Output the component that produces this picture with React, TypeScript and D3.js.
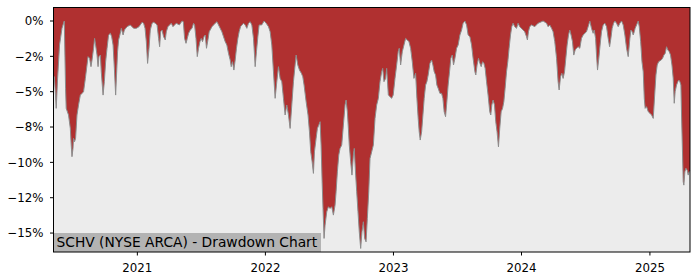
import React from 'react';
import * as d3 from 'd3';

// Decimal-year dates and drawdown (%)
const years = [
  2020.347, 2020.353, 2020.361, 2020.368, 2020.379, 2020.394, 2020.413, 2020.425, 2020.431, 2020.436,
  2020.441, 2020.446, 2020.464, 2020.478, 2020.485, 2020.491, 2020.499, 2020.503, 2020.511, 2020.519,
  2020.530, 2020.542, 2020.556, 2020.569, 2020.581, 2020.595, 2020.608, 2020.616, 2020.628, 2020.639,
  2020.647, 2020.659, 2020.667, 2020.675, 2020.686, 2020.694, 2020.701, 2020.712, 2020.719, 2020.733,
  2020.743, 2020.753, 2020.764, 2020.776, 2020.790, 2020.800, 2020.811, 2020.821, 2020.831, 2020.839,
  2020.846, 2020.854, 2020.867, 2020.875, 2020.889, 2020.899, 2020.920, 2020.945, 2020.971, 2020.992,
  2021.013, 2021.037, 2021.049, 2021.060, 2021.070, 2021.080, 2021.091, 2021.101, 2021.115, 2021.127,
  2021.140, 2021.154, 2021.166, 2021.174, 2021.182, 2021.193, 2021.205, 2021.218, 2021.226, 2021.239,
  2021.265, 2021.278, 2021.304, 2021.328, 2021.349, 2021.359, 2021.369, 2021.380, 2021.390, 2021.400,
  2021.413, 2021.427, 2021.439, 2021.447, 2021.458, 2021.468, 2021.478, 2021.489, 2021.499, 2021.509,
  2021.520, 2021.530, 2021.540, 2021.551, 2021.561, 2021.583, 2021.608, 2021.622, 2021.634, 2021.647,
  2021.660, 2021.673, 2021.686, 2021.699, 2021.712, 2021.725, 2021.733, 2021.743, 2021.754, 2021.764,
  2021.774, 2021.785, 2021.795, 2021.806, 2021.829, 2021.842, 2021.855, 2021.868, 2021.881, 2021.894,
  2021.907, 2021.915, 2021.920, 2021.930, 2021.941, 2021.951, 2021.971, 2021.990, 2022.006, 2022.024,
  2022.037, 2022.050, 2022.063, 2022.076, 2022.089, 2022.102, 2022.115, 2022.128, 2022.141, 2022.154,
  2022.167, 2022.180, 2022.193, 2022.206, 2022.219, 2022.232, 2022.240, 2022.253, 2022.266, 2022.281,
  2022.292, 2022.302, 2022.318, 2022.333, 2022.344, 2022.354, 2022.365, 2022.375, 2022.383, 2022.396,
  2022.406, 2022.417, 2022.427, 2022.435, 2022.443, 2022.450, 2022.458, 2022.466, 2022.479, 2022.492,
  2022.505, 2022.518, 2022.531, 2022.544, 2022.552, 2022.562, 2022.573, 2022.583, 2022.596, 2022.609,
  2022.622, 2022.630, 2022.640, 2022.648, 2022.655, 2022.666, 2022.676, 2022.687, 2022.694, 2022.705,
  2022.713, 2022.723, 2022.733, 2022.744, 2022.754, 2022.765, 2022.775, 2022.786, 2022.796, 2022.807,
  2022.817, 2022.830, 2022.843, 2022.856, 2022.869, 2022.882, 2022.895, 2022.908, 2022.916, 2022.926,
  2022.939, 2022.947, 2022.960, 2022.986, 2022.998, 2023.012, 2023.025, 2023.037, 2023.045, 2023.056,
  2023.069, 2023.082, 2023.095, 2023.108, 2023.121, 2023.134, 2023.147, 2023.160, 2023.173, 2023.183,
  2023.193, 2023.201, 2023.209, 2023.220, 2023.230, 2023.240, 2023.251, 2023.261, 2023.271, 2023.285,
  2023.298, 2023.308, 2023.318, 2023.329, 2023.339, 2023.349, 2023.363, 2023.376, 2023.386, 2023.396,
  2023.407, 2023.417, 2023.427, 2023.438, 2023.448, 2023.459, 2023.469, 2023.480, 2023.493, 2023.505,
  2023.519, 2023.532, 2023.544, 2023.558, 2023.571, 2023.583, 2023.597, 2023.610, 2023.622, 2023.636,
  2023.643, 2023.653, 2023.664, 2023.675, 2023.685, 2023.696, 2023.706, 2023.716, 2023.727, 2023.739,
  2023.752, 2023.760, 2023.768, 2023.778, 2023.789, 2023.799, 2023.809, 2023.820, 2023.830, 2023.841,
  2023.852, 2023.862, 2023.872, 2023.883, 2023.893, 2023.903, 2023.914, 2023.924, 2023.934, 2023.947,
  2023.961, 2023.973, 2023.986, 2024.012, 2024.025, 2024.039, 2024.046, 2024.054, 2024.064, 2024.078,
  2024.103, 2024.129, 2024.168, 2024.195, 2024.207, 2024.220, 2024.234, 2024.246, 2024.259, 2024.273,
  2024.285, 2024.293, 2024.304, 2024.314, 2024.324, 2024.335, 2024.345, 2024.355, 2024.366, 2024.376,
  2024.386, 2024.397, 2024.407, 2024.418, 2024.428, 2024.441, 2024.454, 2024.467, 2024.480, 2024.506,
  2024.519, 2024.532, 2024.545, 2024.558, 2024.566, 2024.577, 2024.584, 2024.592, 2024.602, 2024.612,
  2024.623, 2024.636, 2024.649, 2024.662, 2024.675, 2024.686, 2024.696, 2024.706, 2024.717, 2024.727,
  2024.740, 2024.753, 2024.766, 2024.779, 2024.792, 2024.805, 2024.818, 2024.831, 2024.844, 2024.852,
  2024.862, 2024.870, 2024.878, 2024.885, 2024.896, 2024.909, 2024.917, 2024.928, 2024.938, 2024.948,
  2024.956, 2024.963, 2024.974, 2024.987, 2025.000, 2025.013, 2025.026, 2025.037, 2025.047, 2025.057,
  2025.068, 2025.088, 2025.099, 2025.109, 2025.119, 2025.130, 2025.140, 2025.151, 2025.161, 2025.172,
  2025.182, 2025.190, 2025.197, 2025.208, 2025.218, 2025.226, 2025.234, 2025.242, 2025.247, 2025.255,
  2025.260, 2025.265, 2025.273, 2025.281, 2025.291, 2025.299, 2025.306, 2025.313,
];

const drawdown = [
  -3.9, -3.94, -5.0, -6.18, -4.06, -1.70, -0.52, -0.16, 0, -2.41,
  -4.76, -6.18, -6.65, -7.60, -8.78, -9.60, -9.00, -8.30, -8.54, -8.30,
  -6.65, -5.94, -5.24, -5.12, -5.00, -4.06, -3.11, -2.52, -2.64, -3.23,
  -2.76, -1.93, -1.23, -1.70, -2.41, -3.23, -2.52, -2.41, -3.59, -5.24,
  -4.29, -2.88, -1.93, -0.99, -0.87, -1.11, -1.70, -3.35, -5.24, -3.59,
  -2.17, -1.34, -0.87, -0.52, -0.99, -0.64, -0.40, -0.28, -0.52, -0.52,
  -0.40, -0.09, -0.16, -0.52, -1.46, -3.00, -1.93, -0.64, -0.16, -0.09,
  -0.16, -0.28, -1.23, -1.82, -0.76, -0.64, -1.11, -1.34, -0.76, -0.40,
  -0.16, -0.40, -0.16, -0.28, 0, -0.05, -1.23, -1.58, -1.23, -0.87,
  -0.64, -0.52, -0.16, -0.28, -1.23, -2.52, -1.93, -1.46, -1.23, -1.46,
  -1.11, -0.99, -1.93, -1.34, -0.76, -0.40, -0.16, -0.05, -0.28, -0.52,
  -0.76, -1.11, -1.46, -1.70, -2.29, -2.76, -3.23, -2.88, -3.47, -2.76,
  -1.93, -1.23, -0.76, -0.40, -0.16, -0.28, -0.52, -0.16, -0.05, -0.28,
  -1.23, -2.41, -3.23, -2.17, -1.11, -0.28, -0.28, 0, -0.16, -0.40,
  -0.76, -1.70, -3.59, -5.47, -4.29, -3.23, -4.06, -4.29, -5.47, -6.65,
  -5.94, -6.65, -7.60, -5.94, -4.29, -3.11, -2.41, -3.11, -3.47, -3.70,
  -3.94, -4.53, -5.71, -6.65, -7.83, -9.25, -9.96, -10.78, -9.25, -8.30,
  -7.60, -7.36, -7.12, -8.78, -11.37, -13.26, -15.38, -14.44, -13.50, -13.14,
  -13.26, -13.14, -13.73, -13.02, -12.08, -10.67, -9.48, -9.01, -8.78, -7.36,
  -5.94, -5.59, -6.42, -7.60, -8.78, -9.96, -10.90, -9.48, -9.01, -10.90,
  -12.08, -13.50, -14.91, -16.09, -14.91, -14.20, -15.38, -15.62, -13.96, -12.08,
  -9.72, -9.25, -8.78, -6.89, -5.94, -5.47, -4.29, -3.59, -3.35, -4.29,
  -4.06, -3.35, -5.24, -5.47, -5.24, -4.06, -3.11, -2.17, -1.93, -3.11,
  -2.17, -1.70, -1.23, -1.34, -1.46, -1.93, -2.88, -4.06, -3.70, -5.47,
  -6.89, -7.83, -8.42, -7.83, -6.65, -5.47, -4.53, -4.29, -3.82, -2.99,
  -2.76, -3.11, -3.59, -3.82, -4.53, -4.76, -5.12, -5.12, -5.47, -6.42,
  -6.77, -5.71, -4.53, -3.59, -2.64, -2.41, -3.11, -2.64, -1.93, -1.70,
  -0.99, -0.64, -0.16, 0, -0.28, -0.99, -1.11, -1.70, -2.64, -3.59,
  -3.82, -3.11, -2.64, -2.99, -3.23, -2.88, -2.99, -3.35, -4.29, -5.24,
  -6.42, -6.65, -5.94, -5.59, -5.94, -7.13, -7.83, -8.90, -7.60, -6.42,
  -6.18, -5.71, -4.76, -3.59, -2.88, -1.93, -0.99, -0.40, -0.16, -0.40,
  -0.52, -0.16, -0.40, -0.64, -0.76, -1.11, -1.34, -0.76, -0.40, -0.28,
  -0.40, -0.16, 0, -0.16, -0.40, -0.28, -0.52, -0.76, -1.46, -2.64,
  -4.29, -4.88, -3.94, -3.70, -4.06, -3.59, -2.64, -1.70, -0.99, -0.64,
  -0.99, -1.46, -2.41, -2.05, -1.93, -1.82, -1.93, -1.23, -0.99, -0.76,
  -0.40, 0, -0.52, -0.87, -0.64, -1.23, -2.41, -3.47, -2.64, -1.70,
  -0.76, -0.28, -0.16, -0.40, -1.23, -1.82, -1.23, -0.52, -0.16, 0,
  -0.16, -0.40, -0.16, 0, -0.28, -0.99, -1.93, -2.52, -1.23, -0.64,
  -0.76, -0.99, -0.76, -0.52, -0.28, 0, -0.40, -1.46, -2.88, -3.59,
  -5.47, -6.18, -6.06, -6.42, -6.53, -6.65, -6.89, -5.24, -3.82, -3.11,
  -2.88, -2.76, -2.64, -2.41, -2.29, -1.82, -2.05, -2.17, -2.41, -3.11,
  -4.06, -5.82, -5.00, -4.53, -4.29, -4.18, -4.29, -4.53, -6.65, -9.48,
  -11.37, -11.61, -10.67, -10.42, -10.55, -10.90, -10.67, -10.6,
];

const yTicks = [0, -2.5, -5, -7.5, -10, -12.5, -15];
const yTickLabels = ['0%', '\u22122%', '\u22125%', '\u22128%', '\u221210%', '\u221212%', '\u221215%'];
const xTicks = [2021, 2022, 2023, 2024, 2025];
const title = 'SCHV (NYSE ARCA) - Drawdown Chart';

function toDate(y: number): Date {
  const yr = Math.floor(y);
  const s = Date.UTC(yr, 0, 1);
  const e = Date.UTC(yr + 1, 0, 1);
  return new Date(s + (y - yr) * (e - s));
}

export default function App() {
  const W = 700, H = 280;
  const left = 53.5, right = 690, top = 7.5, bottom = 252;
  const dates = years.map(toDate);
  const data = dates.map((d, i) => ({ d, v: drawdown[i] }));
  const x = d3.scaleTime().domain([dates[0], dates[dates.length - 1]]).range([left, right]);
  const y = d3.scaleLinear().domain([-16.34, 0.955]).range([bottom, top]);
  const area = d3.area<{ d: Date; v: number }>().x(p => x(p.d)).y0(top).y1(p => y(p.v));
  const line = d3.line<{ d: Date; v: number }>().x(p => x(p.d)).y(p => y(p.v));
  const font = 'DejaVu Sans, sans-serif';

  return (
    <svg width={W} height={H} style={{ position: 'absolute', left: 0, top: 0, background: '#fff' }} fontFamily={font}>
      <rect x={left} y={top} width={right - left} height={bottom - top} fill="#ececec" />
      <path d={area(data) || ''} fill="#b03030" />
      <path d={line(data) || ''} fill="none" stroke="#8c8c8c" strokeWidth={1} />
      <rect x={left} y={233} width={321 - left} height={bottom - 233} fill="#b3b3b3" />
      <text x={56.5} y={246.8} fontSize={13.8} fill="#000">{title}</text>
      <rect x={left} y={top} width={right - left} height={bottom - top} fill="none" stroke="#000" strokeWidth={1} />
      {yTicks.map((t, i) => (
        <g key={'y' + t}>
          <line x1={left - 3.5} x2={left} y1={y(t)} y2={y(t)} stroke="#000" strokeWidth={1} />
          <text x={left - 10} y={y(t)} dy="0.36em" textAnchor="end" fontSize={11.8} fill="#000">{yTickLabels[i]}</text>
        </g>
      ))}
      {xTicks.map(t => {
        const px = x(toDate(t));
        return (
          <g key={'x' + t}>
            <line x1={px} x2={px} y1={bottom} y2={bottom + 3.5} stroke="#000" strokeWidth={1} />
            <text x={px} y={bottom + 19.5} textAnchor="middle" fontSize={11.8} fill="#000">{t}</text>
          </g>
        );
      })}
    </svg>
  );
}
